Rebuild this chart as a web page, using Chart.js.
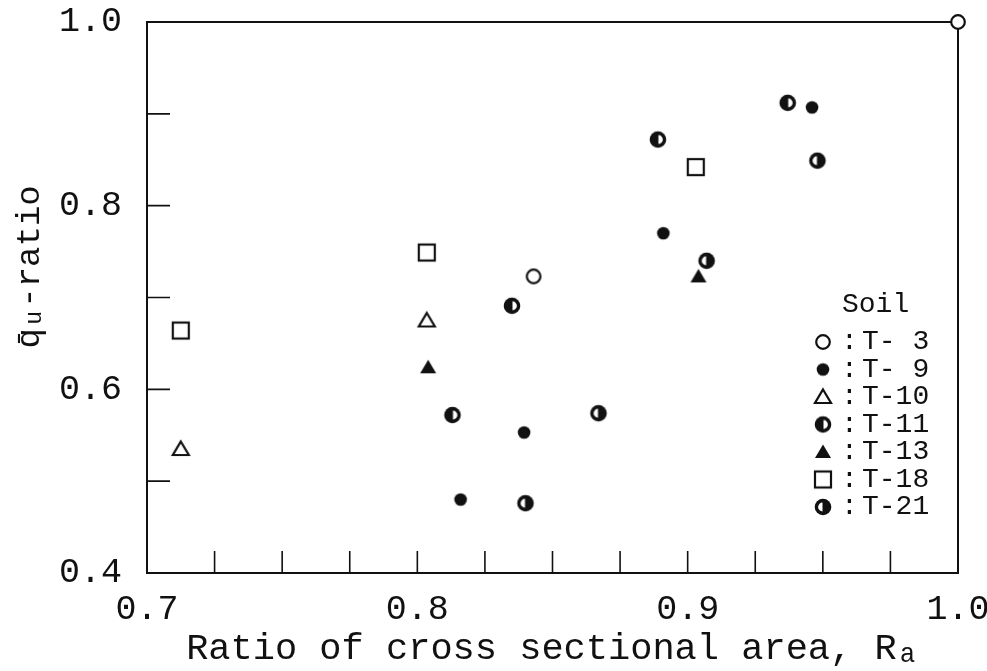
<!DOCTYPE html>
<html>
<head>
<meta charset="utf-8">
<script src="https://cdn.jsdelivr.net/npm/chart.js@4.4.1/dist/chart.umd.min.js"></script>
<style>
  html, body { margin: 0; padding: 0; background: #fff; }
  #wrap { width: 987px; height: 671px; }
</style>
</head>
<body>
<div id="wrap"><canvas id="chart"></canvas></div>
<script>
// values
const soils = ['T- 3', 'T- 9', 'T-10', 'T-11', 'T-13', 'T-18', 'T-21'];
const t3X = [0.843, 1.0];
const t3Y = [0.723, 1.0];
const t9X = [0.946, 0.891, 0.8395, 0.816];
const t9Y = [0.907, 0.770, 0.553, 0.480];
const t10X = [0.8035, 0.7125];
const t10Y = [0.675, 0.535];
const t11X = [0.937, 0.889, 0.835, 0.813];
const t11Y = [0.912, 0.872, 0.691, 0.572];
const t13X = [0.904, 0.804];
const t13Y = [0.723, 0.624];
const t18X = [0.903, 0.8035, 0.7125];
const t18Y = [0.842, 0.749, 0.664];
const t21X = [0.948, 0.907, 0.867, 0.840];
const t21Y = [0.849, 0.740, 0.574, 0.476];

const xLabels = [0.7, 0.8, 0.9, 1.0];
const yLabels = [0.4, 0.6, 0.8, 1.0];
const xTickMarks = [0.725, 0.75, 0.775, 0.8, 0.825, 0.85, 0.875, 0.9, 0.925, 0.95, 0.975];
const yTickMarks = [0.5, 0.6, 0.7, 0.8, 0.9];

const INK = '#111';
Chart.defaults.font.family = "'Liberation Mono', 'DejaVu Sans Mono', monospace";
Chart.defaults.color = INK;

// marker glyphs drawn once on small canvases
function marker(kind) {
  const c = document.createElement('canvas');
  c.width = 22; c.height = 22;
  const g = c.getContext('2d');
  const m = 11;
  g.fillStyle = INK; g.strokeStyle = INK; g.lineWidth = 2.2;
  const tri = () => { g.beginPath(); g.moveTo(m, 3.5); g.lineTo(m + 8, 17); g.lineTo(m - 8, 17); g.closePath(); };
  if (kind === 'openCircle') {
    g.beginPath(); g.arc(m, m, 6.8, 0, Math.PI * 2);
    g.fillStyle = '#fff'; g.fill(); g.stroke();
  } else if (kind === 'dot') {
    g.beginPath(); g.arc(m, m, 6.3, 0, Math.PI * 2); g.fill();
  } else if (kind === 'openTriangle') {
    tri(); g.fillStyle = '#fff'; g.fill(); g.stroke();
  } else if (kind === 'filledTriangle') {
    tri(); g.fill();
  } else if (kind === 'openSquare') {
    g.fillStyle = '#fff'; g.fillRect(3, 3, 16, 16); g.strokeRect(3, 3, 16, 16);
  } else {
    g.beginPath(); g.arc(m, m, 8.3, 0, Math.PI * 2); g.fill();
    g.fillStyle = '#fff'; g.beginPath();
    if (kind === 'leftHalf') g.arc(m + 0.5, m, 4.4, -Math.PI / 2, Math.PI / 2);
    else g.arc(m - 0.5, m, 4.4, Math.PI / 2, Math.PI * 1.5);
    g.closePath(); g.fill();
  }
  return c;
}

const markers = ['openCircle', 'dot', 'openTriangle', 'leftHalf', 'filledTriangle', 'openSquare', 'rightHalf'].map(marker);
const xs = [t3X, t9X, t10X, t11X, t13X, t18X, t21X];
const ys = [t3Y, t9Y, t10Y, t11Y, t13Y, t18Y, t21Y];

const datasets = soils.map((name, i) => ({
  label: name,
  data: xs[i].map((x, j) => ({ x: x, y: ys[i][j] })),
  pointStyle: markers[i],
  pointRadius: 8,
  showLine: false,
  clip: false
}));

const near = (v, list) => list.some(t => Math.abs(t - v) < 1e-6);

// box around the plot and inward tick marks
const frameAndTicks = {
  id: 'frameAndTicks',
  beforeDatasetsDraw(chart) {
    const { ctx, chartArea: a, scales: { x, y } } = chart;
    ctx.save();
    ctx.strokeStyle = INK;
    ctx.lineWidth = 2;
    ctx.strokeRect(a.left, a.top, a.right - a.left, a.bottom - a.top);
    ctx.lineWidth = 1.6;
    ctx.beginPath();
    xTickMarks.forEach(v => {
      const px = x.getPixelForValue(v);
      ctx.moveTo(px, a.bottom); ctx.lineTo(px, a.bottom - 22);
    });
    yTickMarks.forEach(v => {
      const py = y.getPixelForValue(v);
      ctx.moveTo(a.left, py); ctx.lineTo(a.left + 23, py);
    });
    ctx.stroke();
    ctx.restore();
  }
};

// "Soil" key in the lower right of the plot
const soilKey = {
  id: 'soilKey',
  afterDraw(chart) {
    const { ctx, chartArea: a } = chart;
    const mx = a.right - 135;
    const top = a.top + 283;
    ctx.save();
    ctx.fillStyle = INK;
    ctx.font = "28px 'Liberation Mono', monospace";
    ctx.textBaseline = 'middle';
    ctx.textAlign = 'left';
    ctx.fillText('Soil', mx + 19, top);
    soils.forEach((name, i) => {
      const ry = top + 37 + i * 27.5;
      ctx.drawImage(markers[i], mx - 11, ry - 11);
      ctx.fillText(':', mx + 18, ry);
      ctx.fillText(name, mx + 39, ry);
    });
    ctx.restore();
  }
};

new Chart(document.getElementById('chart'), {
  type: 'scatter',
  data: { datasets: datasets },
  options: {
    responsive: true,
    maintainAspectRatio: false,
    animation: false,
    layout: { padding: { top: 22, right: 29, left: 0, bottom: 0 } },
    plugins: {
      legend: { display: false },
      tooltip: { enabled: false }
    },
    scales: {
      x: {
        type: 'linear',
        min: 0.7,
        max: 1.0,
        grid: { display: false },
        border: { display: false },
        ticks: {
          stepSize: 0.1,
          padding: 8,
          maxRotation: 0,
          font: { size: 35 },
          callback: v => near(v, xLabels) ? v.toFixed(1) : ''
        },
        title: {
          display: true,
          text: 'Ratio of cross sectional area, R\u2090',
          font: { size: 37 },
          padding: { top: 0, bottom: 0 }
        },
        afterFit(scale) {
          scale.height = 98;
          scale.paddingLeft = 0;
          scale.paddingRight = 0;
        }
      },
      y: {
        type: 'linear',
        min: 0.4,
        max: 1.0,
        grid: { display: false },
        border: { display: false },
        ticks: {
          stepSize: 0.1,
          padding: 17,
          font: { size: 35 },
          callback: v => near(v, yLabels) ? v.toFixed(1) : ''
        },
        title: {
          display: true,
          // leading spaces lift the rotated title a little, as in the figure
          text: '   q\u0304\u1d64-ratio',
          font: { size: 34 },
          padding: { top: 10, bottom: 0 }
        },
        afterFit(scale) {
          scale.width = 147;
          scale.paddingTop = 0;
          scale.paddingBottom = 0;
        }
      }
    }
  },
  plugins: [frameAndTicks, soilKey]
});
</script>
</body>
</html>
